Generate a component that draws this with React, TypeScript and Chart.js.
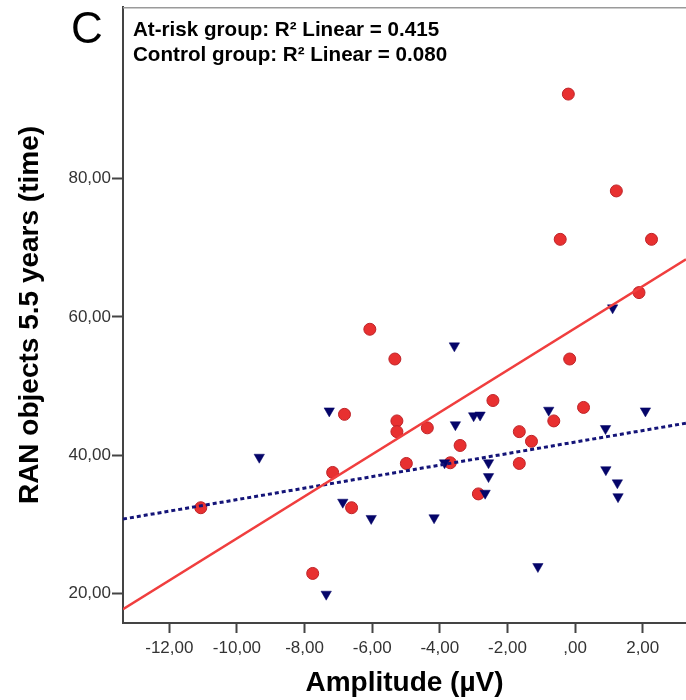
import React, { useEffect, useRef } from 'react';
import { Chart, registerables } from 'chart.js';

Chart.register(...registerables);

// ---- data ----
const AT_RISK_X = [-0.2, 1.22, -0.44, 2.26, 1.89, -6.07, -5.33, -0.16, -2.43, 0.25, -6.82, -5.27, -0.63, -5.27, -4.37, -1.65, -1.29, -3.4, -4.99, -3.69, -1.65, -7.17, -11.07, -6.61, -2.86, -7.76];
const AT_RISK_Y = [92.2, 78.2, 71.2, 71.2, 63.5, 58.2, 53.9, 53.9, 47.9, 46.9, 45.9, 44.95, 44.95, 43.4, 43.95, 43.4, 42.0, 41.4, 38.8, 38.9, 38.8, 37.5, 32.4, 32.4, 34.4, 22.9];

const CONTROL_X = [1.11, -3.57, -7.27, -3.54, -3.0, -2.81, -0.78, 2.08, 0.9, -9.34, -3.86, -2.56, -2.56, 0.91, 1.25, 1.27, -2.66, -6.87, -6.03, -4.17, -1.1, -7.36];
const CONTROL_Y = [61.3, 55.8, 46.4, 44.4, 45.7, 45.8, 46.5, 46.4, 43.85, 39.7, 38.9, 38.9, 36.9, 37.9, 36.0, 34.0, 34.5, 33.2, 30.85, 30.95, 23.9, 19.9];

const X_TICKS = [-12, -10, -8, -6, -4, -2, 0, 2];
const X_TICK_LABELS = ['-12,00', '-10,00', '-8,00', '-6,00', '-4,00', '-2,00', ',00', '2,00'];
const Y_TICKS = [20, 40, 60, 80];
const Y_TICK_LABELS = ['20,00', '40,00', '60,00', '80,00'];
const X_RANGE = [-13.37, 3.28];
const Y_RANGE = [15.735, 104.79];

const PANEL_LABEL = 'C';
const ANNOTATIONS = ['At-risk group: R\u00B2 Linear = 0.415', 'Control group: R\u00B2 Linear = 0.080'];
const X_TITLE = 'Amplitude (\u00B5V)';
const Y_TITLE = 'RAN objects 5.5 years (time)';

const FONT = "'Liberation Sans', Arial, Helvetica, sans-serif";

function linearFit(xs: number[], ys: number[]) {
  const n = xs.length;
  const mx = xs.reduce((a, b) => a + b, 0) / n;
  const my = ys.reduce((a, b) => a + b, 0) / n;
  let sxy = 0;
  let sxx = 0;
  for (let i = 0; i < n; i++) {
    sxy += (xs[i] - mx) * (ys[i] - my);
    sxx += (xs[i] - mx) * (xs[i] - mx);
  }
  const slope = sxy / sxx;
  return { slope, intercept: my - slope * mx };
}

function fitLine(xs: number[], ys: number[]) {
  const f = linearFit(xs, ys);
  return X_RANGE.map((x) => ({ x, y: f.intercept + f.slope * x }));
}

const textPlugin = {
  id: 'spssText',
  afterDraw(chart: any) {
    const { ctx, chartArea } = chart;
    ctx.save();
    // top frame line of the plot
    ctx.strokeStyle = '#9a9a9a';
    ctx.lineWidth = 1.5;
    ctx.beginPath();
    ctx.moveTo(chartArea.left, chartArea.top + 0.75);
    ctx.lineTo(chart.width, chartArea.top + 0.75);
    ctx.stroke();
    // panel letter
    ctx.fillStyle = '#000';
    ctx.textAlign = 'left';
    ctx.textBaseline = 'alphabetic';
    ctx.font = `44px ${FONT}`;
    ctx.fillText(PANEL_LABEL, 71, 43);
    // R^2 annotations
    ctx.font = `bold 20.6px ${FONT}`;
    ANNOTATIONS.forEach((t, i) => {
      ctx.fillText(t, chartArea.left + 10, 35.5 + i * 25);
    });
    ctx.restore();
  },
};

export default function App() {
  const ref = useRef<HTMLCanvasElement | null>(null);

  useEffect(() => {
    if (!ref.current) return;
    const chart = new Chart(ref.current, {
      type: 'scatter',
      data: {
        datasets: [
          {
            type: 'line',
            label: 'At-risk fit',
            data: fitLine(AT_RISK_X, AT_RISK_Y),
            borderColor: 'rgb(240,62,62)',
            borderWidth: 2.5,
            pointRadius: 0,
            fill: false,
          } as any,
          {
            type: 'line',
            label: 'Control fit',
            data: fitLine(CONTROL_X, CONTROL_Y),
            borderColor: 'rgb(20,20,120)',
            borderWidth: 3,
            borderDash: [4, 3],
            pointRadius: 0,
            fill: false,
          } as any,
          {
            label: 'Control group',
            data: CONTROL_X.map((x, i) => ({ x, y: CONTROL_Y[i] })),
            pointStyle: 'triangle',
            rotation: 180,
            pointRadius: 6,
            backgroundColor: 'rgb(5,5,105)',
            borderColor: 'rgb(5,5,105)',
            borderWidth: 0.5,
          },
          {
            label: 'At-risk group',
            data: AT_RISK_X.map((x, i) => ({ x, y: AT_RISK_Y[i] })),
            pointStyle: 'circle',
            pointRadius: 6,
            backgroundColor: 'rgb(232,48,48)',
            borderColor: 'rgb(190,35,40)',
            borderWidth: 1,
          },
        ],
      },
      options: {
        responsive: false,
        animation: false,
        events: [],
        layout: { autoPadding: false, padding: { left: 0, right: 0, top: 7, bottom: 0 } },
        plugins: { legend: { display: false }, tooltip: { enabled: false } },
        scales: {
          x: {
            type: 'linear',
            min: X_RANGE[0],
            max: X_RANGE[1],
            afterBuildTicks: (s: any) => {
              s.ticks = X_TICKS.map((v) => ({ value: v }));
            },
            afterFit: (s: any) => {
              s.height = 77;
              s.paddingLeft = 0;
              s.paddingRight = 0;
            },
            grid: { drawOnChartArea: false, drawTicks: true, tickLength: 10, tickColor: '#444', tickWidth: 2 },
            border: { display: true, color: '#444', width: 2 },
            ticks: {
              padding: 5,
              color: '#333',
              font: { family: FONT, size: 17 },
              maxRotation: 0,
              autoSkip: false,
              callback: (v: any) => {
                const i = X_TICKS.indexOf(Number(v));
                return i >= 0 ? X_TICK_LABELS[i] : '';
              },
            },
            title: {
              display: true,
              text: X_TITLE,
              color: '#000',
              font: { family: FONT, size: 28, weight: 'bold', lineHeight: 1 },
              padding: { top: 0, bottom: 3 },
            },
          },
          y: {
            type: 'linear',
            min: Y_RANGE[0],
            max: Y_RANGE[1],
            afterBuildTicks: (s: any) => {
              s.ticks = Y_TICKS.map((v) => ({ value: v }));
            },
            afterFit: (s: any) => {
              s.width = 123;
              s.paddingTop = 0;
              s.paddingBottom = 0;
            },
            grid: { drawOnChartArea: false, drawTicks: true, tickLength: 11, tickColor: '#444', tickWidth: 2 },
            border: { display: true, color: '#444', width: 2 },
            ticks: {
              padding: 1,
              color: '#333',
              font: { family: FONT, size: 17 },
              autoSkip: false,
              callback: (v: any) => {
                const i = Y_TICKS.indexOf(Number(v));
                return i >= 0 ? Y_TICK_LABELS[i] : '';
              },
            },
            title: {
              display: true,
              text: Y_TITLE,
              color: '#000',
              font: { family: FONT, size: 28, weight: 'bold', lineHeight: 1 },
              padding: { top: 16, bottom: 0 },
            },
          },
        },
      },
      plugins: [textPlugin],
    } as any);
    return () => chart.destroy();
  }, []);

  return (
    <div style={{ position: 'fixed', left: 0, top: 0, width: 686, height: 700, background: '#fff', overflow: 'hidden' }}>
      <canvas ref={ref} width={686} height={700} style={{ display: 'block' }} />
    </div>
  );
}
